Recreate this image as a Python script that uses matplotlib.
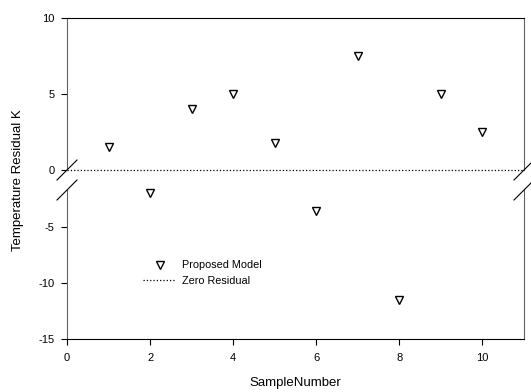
import matplotlib.pyplot as plt
import numpy as np

plt.rcParams['font.family'] = ['Liberation Sans', 'DejaVu Sans']
plt.rcParams['axes.unicode_minus'] = False

# data
sample = np.array([1, 2, 3, 4, 5, 6, 7, 8, 9, 10])
residual = np.array([1.5, -2.0, 4.0, 5.0, 1.75, -3.6, 7.5, -11.5, 5.0, 2.5])

upper_lim = (0, 10)
lower_lim = (-15, -1.7)
xticks = [0, 2, 4, 6, 8, 10]

fig = plt.figure(figsize=(5.31, 3.92), dpi=100)
L, R = 67 / 531, 524 / 531
ax_top = fig.add_axes([L, 1 - 170 / 392, R - L, (170 - 18) / 392])
ax_bot = fig.add_axes([L, 1 - 339 / 392, R - L, (339 - 190) / 392])

spine_gray = '#606060'
mk = dict(marker='v', ms=6, mfc='white', mec='black', mew=1.0, ls='none')

up = residual >= 0
ax_top.plot(sample[up], residual[up], clip_on=False, **mk)
ax_bot.plot(sample[~up], residual[~up], label='Proposed Model',
            clip_on=False, **mk)

for ax in (ax_top, ax_bot):
    ax.set_xlim(0, 11)
    ax.spines['left'].set_color(spine_gray)
    ax.spines['right'].set_color(spine_gray)
    ax.tick_params(axis='both', direction='out', length=4, width=0.8,
                   labelsize=8, colors='black')
    ax.tick_params(axis='y', pad=5)
    ax.tick_params(axis='x', pad=6)

ax_top.axhline(0, color='black', ls=':', lw=0.9, clip_on=False,
               label='Zero Residual')
ax_top.set_ylim(*upper_lim)
ax_top.set_yticks([0, 5, 10])
ax_top.spines['bottom'].set_visible(False)
ax_top.tick_params(axis='x', bottom=False, labelbottom=False)

ax_bot.set_ylim(*lower_lim)
ax_bot.set_yticks([-5, -10, -15])
ax_bot.set_xticks(xticks)
ax_bot.spines['top'].set_visible(False)
ax_bot.set_xlabel('SampleNumber', fontsize=9.5, labelpad=10)

fig.text(18 / 531, 1 - 180 / 392, 'Temperature Residual K', rotation=90,
         ha='center', va='center', fontsize=9.5)

# break marks
d = 10
for ax, yfrac in ((ax_top, 0), (ax_bot, 1)):
    for xfrac in (0, 1):
        x0, y0 = ax.transAxes.transform((xfrac, yfrac))
        fx0, fy0 = fig.transFigure.inverted().transform((x0 - d, y0 - d))
        fx1, fy1 = fig.transFigure.inverted().transform((x0 + d, y0 + d))
        fig.add_artist(plt.Line2D([fx0, fx1], [fy0, fy1], color='black',
                                  lw=0.8, transform=fig.transFigure))

h1, l1 = ax_bot.get_legend_handles_labels()
h2, l2 = ax_top.get_legend_handles_labels()
fig.legend(h1 + h2, l1 + l2, loc='upper left',
           bbox_to_anchor=(138 / 531, 1 - 255 / 392), frameon=False,
           fontsize=7.8, handlelength=3.0, handletextpad=0.6,
           labelspacing=0.5, borderpad=0)

fig.savefig('out.png', dpi=100)
